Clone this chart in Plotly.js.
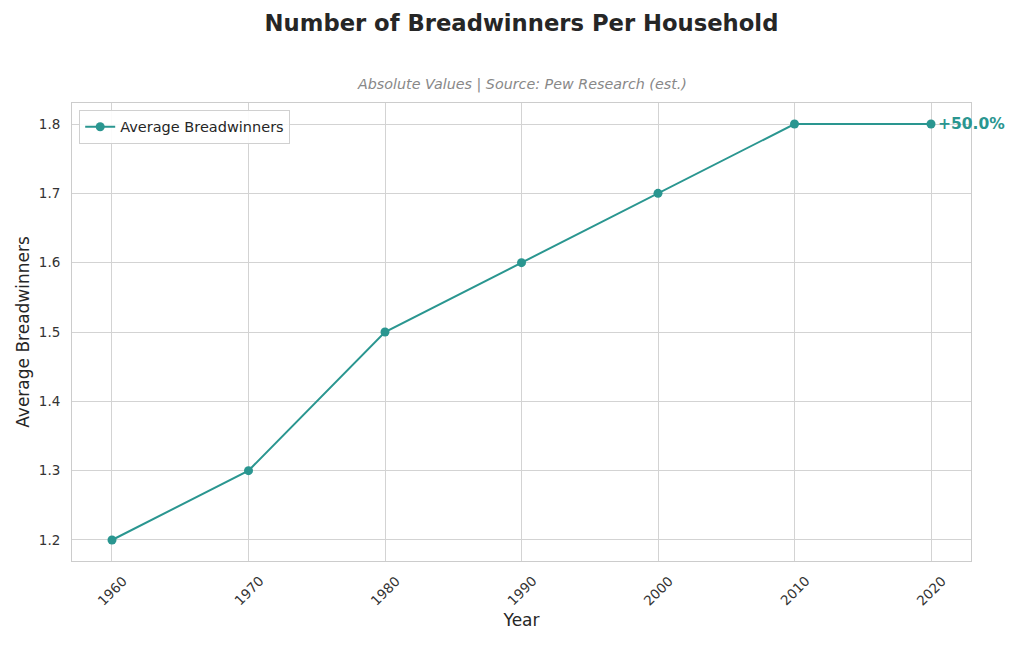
<!DOCTYPE html>
<html>
<head>
<meta charset="utf-8">
<script src="https://cdn.plot.ly/plotly-3.0.1.min.js"></script>
<style>html,body{margin:0;padding:0;background:#fff;}#chart{width:1024px;height:666px;}</style>
</head>
<body>
<div id="chart"></div>
<script>
const years = [1960, 1970, 1980, 1990, 2000, 2010, 2020];
const breadwinners = [1.2, 1.3, 1.5, 1.6, 1.7, 1.8, 1.8];
const yTicks = [1.2, 1.3, 1.4, 1.5, 1.6, 1.7, 1.8];
const seriesName = "Average Breadwinners";
const changeLabel = "+50.0%";
const color = "#2a9690";
const font = "DejaVu Sans, sans-serif";

const trace = {
  x: years, y: breadwinners, type: "scatter", mode: "lines+markers",
  name: seriesName,
  line: {color: color, width: 2},
  marker: {color: color, size: 9},
  showlegend: true
};

const xTickAnnots = years.map(yr => ({
  text: String(yr), x: yr, xref: "x", y: 0, yref: "paper", yshift: -30,
  xanchor: "center", yanchor: "middle", textangle: -45, showarrow: false,
  font: {size: 13.5, color: "#333333"}
}));

const layout = {
  width: 1024, height: 666,
  margin: {l: 72, r: 53, t: 103, b: 105},
  paper_bgcolor: "#fff", plot_bgcolor: "#fff",
  font: {family: font, color: "#262626", size: 13},
  title: {text: "<b>Number of Breadwinners Per Household</b>", xref: "paper", x: 0.5, xanchor: "center", y: 0.965, yanchor: "middle",
          font: {family: font, size: 22.7, color: "#262626"}},
  xaxis: {
    range: [1957.07, 2022.93], tickvals: years, showticklabels: false,
    showgrid: true, gridcolor: "#d3d3d3", gridwidth: 1, zeroline: false,
    showline: true, linecolor: "#cccccc", mirror: true, ticks: "",
    title: {text: "Year", font: {size: 17, color: "#262626"}, standoff: 53}
  },
  yaxis: {
    range: [1.1697, 1.8303], tickvals: yTicks, ticktext: yTicks.map(v => v.toFixed(1)),
    showgrid: true, gridcolor: "#d3d3d3", gridwidth: 1, zeroline: false,
    showline: true, linecolor: "#cccccc", mirror: true, ticks: "", ticklabelstandoff: 8,
    tickfont: {size: 13.5, color: "#333333"},
    title: {text: "Average Breadwinners", font: {size: 17, color: "#262626"}, standoff: 4}
  },
  legend: {x: 0.008, y: 0.985, xanchor: "left", yanchor: "top", bgcolor: "rgba(255,255,255,0.9)",
           bordercolor: "#d0d0d0", borderwidth: 1, font: {size: 14.5, color: "#262626"}},
  annotations: [
    {text: "<i>Absolute Values | Source: Pew Research (est.)</i>", xref: "paper", yref: "paper", x: 0.5, y: 1.0, yshift: 19,
     xanchor: "center", yanchor: "middle", showarrow: false, font: {size: 14.3, color: "#888888"}},
    {text: "<b>" + changeLabel + "</b>", x: years[years.length-1], y: breadwinners[breadwinners.length-1], xref: "x", yref: "y",
     xanchor: "left", yanchor: "middle", xshift: 5, showarrow: false, font: {size: 15.5, color: color}}
  ].concat(xTickAnnots)
};

Plotly.newPlot("chart", [trace], layout, {displayModeBar: false, staticPlot: true});
</script>
</body>
</html>
